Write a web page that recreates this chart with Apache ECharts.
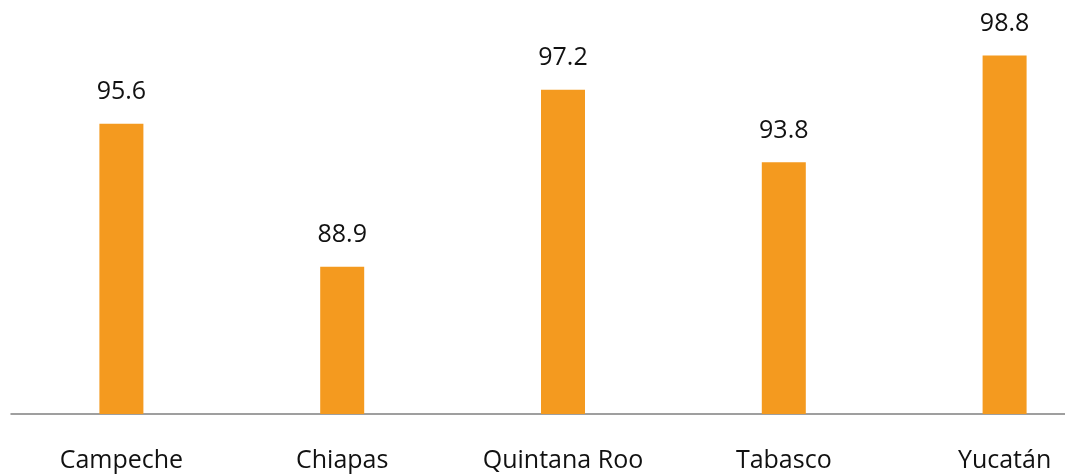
<!DOCTYPE html>
<html>
<head>
<meta charset="utf-8">
<script src="https://cdn.jsdelivr.net/npm/echarts@6/dist/echarts.min.js"></script>
<style>
  html, body { margin: 0; padding: 0; background: #ffffff; overflow: hidden; width: 1065px; height: 475px; }
  /* the chart is wider than the page so its last category band runs off the right edge */
  #chart { width: 1115px; height: 475px; }
</style>
</head>
<body>
<div id="chart"></div>
<script>
// States of the south-southeast region and their values
const states = ['Campeche', 'Chiapas', 'Quintana Roo', 'Tabasco', 'Yucatán'];
const values = [95.6, 88.9, 97.2, 93.8, 98.8];

const chart = echarts.init(document.getElementById('chart'), null, { renderer: 'canvas' });

chart.setOption({
  animation: false,
  backgroundColor: '#ffffff',
  grid: { left: 11, right: 0, top: 30, bottom: 61, containLabel: false },
  xAxis: {
    type: 'category',
    data: states,
    axisLine: { show: true, lineStyle: { color: '#808080', width: 1.5 } },
    axisTick: { show: false },
    axisLabel: {
      interval: 0,
      margin: 34,
      color: '#111111',
      fontFamily: 'Open Sans',
      fontSize: 25
    }
  },
  yAxis: {
    type: 'value',
    min: 82,
    max: 100,
    show: false,
    splitLine: { show: false }
  },
  series: [{
    type: 'bar',
    data: values,
    barWidth: 44,
    itemStyle: { color: '#F49A1F' },
    label: {
      show: true,
      position: 'top',
      distance: 19,
      color: '#111111',
      fontFamily: 'Open Sans',
      fontSize: 25,
      formatter: p => p.value.toFixed(1)
    }
  }]
});
</script>
</body>
</html>
